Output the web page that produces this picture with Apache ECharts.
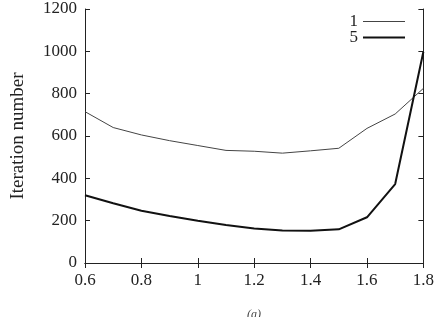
<!DOCTYPE html>
<html><head><meta charset="utf-8">
<script src="https://cdn.jsdelivr.net/npm/echarts@6/dist/echarts.min.js"></script>
<style>html,body{margin:0;padding:0;background:#fff}#c{width:437px;height:317px}</style>
</head><body><div id="c"></div>
<script>
const xValues = [0.6,0.7,0.8,0.9,1.0,1.1,1.2,1.3,1.4,1.5,1.6,1.7,1.8];
const series1 = [715,640,605,578,555,532,528,519,530,542,636,704,825];
const series5 = [320,282,247,222,200,180,163,154,152,159,216,373,998];
const xTicks = [0.6,0.8,1,1.2,1.4,1.6,1.8];
const yTicks = [0,200,400,600,800,1000,1200];
const seriesNames = ['1','5'];

const font = 'Liberation Serif';
const chart = echarts.init(document.getElementById('c'));
const pair = (xs, ys) => xs.map((x,i)=>[x, ys[i]]);
const axisLine = {show:true, lineStyle:{color:'#222', width:1}};
const legendText = {fontFamily:font, fontSize:17, color:'#222'};
chart.setOption({
  animation:false,
  grid:{left:85, right:9, top:9, bottom:54},
  legend:[
    {right:27, top:8, align:'right', itemWidth:42, itemHeight:1, icon:'rect',
     textStyle:legendText, data:[seriesNames[0]]},
    {right:27, top:24, align:'right', itemWidth:42, itemHeight:2, icon:'rect',
     textStyle:legendText, data:[seriesNames[1]]}
  ],
  xAxis:[{
    type:'value', min:0.6, max:1.8, interval:0.2,
    axisLine, axisTick:{show:true, inside:true, length:5, lineStyle:{color:'#222'}},
    splitLine:{show:false},
    axisLabel:{fontFamily:font, fontSize:17, color:'#222', margin:9,
      formatter:v=>{const t=xTicks.find(k=>Math.abs(k-v)<1e-6); return t===undefined?'':String(t);}}
  },{
    type:'value', position:'top', min:0.6, max:1.8, interval:0.2,
    axisLine, axisTick:{show:true, inside:true, length:5, lineStyle:{color:'#222'}},
    axisLabel:{show:false}, splitLine:{show:false}
  }],
  yAxis:[{
    type:'value', min:0, max:1200, interval:200,
    name:'Iteration number', nameLocation:'middle', nameGap:57,
    nameTextStyle:{fontFamily:font, fontSize:19, color:'#222'},
    axisLine, axisTick:{show:true, inside:true, length:5, lineStyle:{color:'#222'}},
    splitLine:{show:false},
    axisLabel:{fontFamily:font, fontSize:17, color:'#222', margin:8,
      formatter:v=>yTicks.includes(v)?String(v):''}
  },{
    type:'value', position:'right', min:0, max:1200, interval:200,
    axisLine, axisTick:{show:true, inside:true, length:5, lineStyle:{color:'#222'}},
    axisLabel:{show:false}, splitLine:{show:false}
  }],
  series:[
    {name:seriesNames[0], type:'line', symbol:'none', data:pair(xValues, series1),
     lineStyle:{color:'#444', width:1}, itemStyle:{color:'#444'}},
    {name:seriesNames[1], type:'line', symbol:'none', data:pair(xValues, series5),
     lineStyle:{color:'#111', width:2}, itemStyle:{color:'#111'}}
  ],
  graphic:[{type:'text', left:247, top:309,
    style:{text:'(a)', fontFamily:font, fontStyle:'italic', fontSize:12, fill:'#444'}}]
});
</script></body></html>
